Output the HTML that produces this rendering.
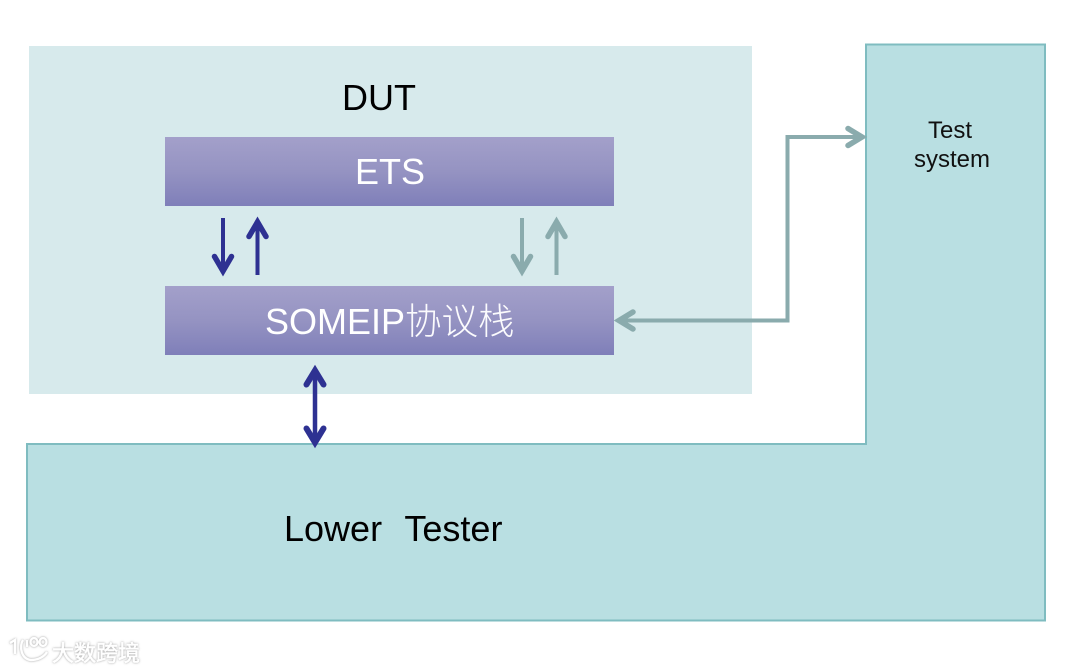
<!DOCTYPE html>
<html>
<head>
<meta charset="utf-8">
<style>
html,body{margin:0;padding:0;background:#fff;}
svg{display:block;}
text{font-family:"Liberation Sans","Noto Sans CJK SC",sans-serif;}
</style>
</head>
<body>
<svg width="1080" height="672" viewBox="0 0 1080 672" xmlns="http://www.w3.org/2000/svg">
<defs>
<linearGradient id="g" x1="0" y1="0" x2="0" y2="1">
<stop offset="0" stop-color="#a3a0ca"/>
<stop offset="0.5" stop-color="#9593c2"/>
<stop offset="1" stop-color="#7f7fb9"/>
</linearGradient>
<filter id="glow" x="-20%" y="-40%" width="140%" height="180%">
<feDropShadow dx="0" dy="0" stdDeviation="1.100" flood-color="#8c8c8c" flood-opacity="0.900"/>
</filter>
</defs>
<rect width="1080" height="672" fill="#ffffff"/>
<rect x="29" y="46" width="723" height="348" fill="#d7eaec"/>
<path d="M866 44.500H1045V620.500H27V444H866Z" fill="#b9dfe2" stroke="#7fbcc0" stroke-width="2"/>
<rect x="165" y="137" width="449" height="69" fill="url(#g)"/>
<rect x="165" y="286" width="449" height="69" fill="url(#g)"/>
<text x="379" y="110" font-size="36" text-anchor="middle" fill="#000">DUT</text>
<text x="390" y="184" font-size="36" text-anchor="middle" fill="#fff">ETS</text>
<text x="265" y="334" font-size="36" fill="#fff">SOMEIP<tspan font-weight="200" font-size="36.500" fill-opacity="0.960">协议栈</tspan></text>
<text x="950" y="138" font-size="24" text-anchor="middle" fill="#111">Test</text>
<text x="952" y="167" font-size="24" text-anchor="middle" fill="#111">system</text>
<text x="284" y="541" font-size="36" fill="#000" xml:space="preserve" word-spacing="1.500">Lower  Tester</text>
<g fill="none" stroke="#2e3192" stroke-width="4" stroke-linecap="round" stroke-linejoin="miter" stroke-miterlimit="8">
<path d="M223 218V270" stroke-linecap="butt"/>
<path d="M214.500 256.500L223 271L231.500 256.500" stroke-width="5.500"/>
<path d="M257.500 275V223" stroke-linecap="butt"/>
<path d="M249 236.500L257.500 222L266 236.500" stroke-width="5.500"/>
<path d="M315 372V441" stroke-width="4.500" stroke-linecap="butt"/>
<path d="M306.500 384.500L315 370.500L323.500 384.500" stroke-width="6"/>
<path d="M306.500 428.500L315 442.500L323.500 428.500" stroke-width="6"/>
</g>
<g fill="none" stroke="#8aabad" stroke-width="4" stroke-linecap="round" stroke-linejoin="miter" stroke-miterlimit="8">
<path d="M522 218V270" stroke-linecap="butt"/>
<path d="M513.500 256.500L522 271L530.500 256.500" stroke-width="5.500"/>
<path d="M556.500 275V223" stroke-linecap="butt"/>
<path d="M548 236.500L556.500 222L565 236.500" stroke-width="5.500"/>
<path d="M619 320.500H787.500V137H861" stroke-linecap="butt"/>
<path d="M633 312L619 320.500L633 329" stroke-width="5.500"/>
<path d="M848 128.500L862 137L848 145.500" stroke-width="5.500"/>
</g>
<text x="52" y="661" font-size="22" fill="#ffffff" stroke="#ffffff" stroke-width="0.500" filter="url(#glow)">大数跨境</text>
<g fill="none" stroke="#ffffff" stroke-width="2.200" filter="url(#glow)">
<path d="M10 643L15 640V654"/>
<path d="M23 640C19 646 21 659 31 660C38 660 44 657 47 652"/>
<path d="M27 640V647"/>
<ellipse cx="34" cy="642" rx="3.500" ry="4"/>
<ellipse cx="43" cy="642" rx="3.500" ry="4"/>
</g>
</svg>
</body>
</html>
